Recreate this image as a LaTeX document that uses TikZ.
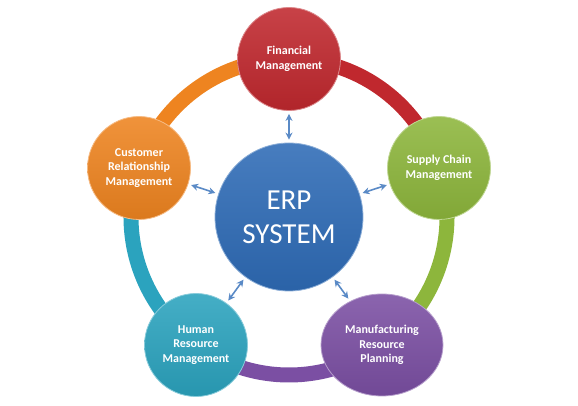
\documentclass[tikz,border=0pt]{standalone}
\usepackage{fontspec}
\setmainfont{Carlito}
\usetikzlibrary{shapes.geometric, arrows.meta}
\definecolor{ErpBlue}{HTML}{2E6BB6}
\definecolor{FinRed}{HTML}{C0282E}
\definecolor{CrmOrange}{HTML}{EE8420}
\definecolor{ScmGreen}{HTML}{8DB63C}
\definecolor{HrmTeal}{HTML}{2BA3BE}
\definecolor{MrpPurple}{HTML}{7B4FA3}
\definecolor{ArrowBlue}{HTML}{5A8AC6}

\begin{document}
\begin{tikzpicture}[x=1pt, y=1pt,
    module/.style={circle, inner sep=0pt, minimum size=103pt, align=center,
        text=white, font=\bfseries\fontsize{12}{14.5}\selectfont,
        draw=#1!55!white, line width=0.8pt,
        top color=#1!88!white, bottom color=#1!92!black},
    band/.style={line width=15pt, draw=#1},
    link/.style={ArrowBlue, line width=1.6pt, shorten <=3pt, shorten >=3pt,
        {Stealth[length=7pt,width=7pt]}-{Stealth[length=7pt,width=7pt]}}]
    \useasboundingbox (0,0) rectangle (578,406);

    % Ring
    \foreach \a/\b/\c in {90/18/FinRed, 18/-54/ScmGreen, -54/-126/MrpPurple,
                          -126/-198/HrmTeal, 162/90/CrmOrange}
        \draw[band=\c] (289,189) ++(\a:158) arc[start angle=\a, end angle=\b, radius=158];

    % Modules
    \node[module=FinRed] (fin) at (289,347) {Financial\\Management};
    \node[module=ScmGreen] (scm) at (439,238) {Supply Chain\\Management};
    \node[module=MrpPurple, ellipse, minimum width=122pt, minimum height=102pt]
        (mrp) at (382,61) {Manufacturing\\Resource\\Planning};
    \node[module=HrmTeal] (hrm) at (196,61) {Human\\Resource\\Management};
    \node[module=CrmOrange] (crm) at (139,238) {Customer\\Relationship\\Management};

    % Centre
    \node[module=ErpBlue, minimum size=148pt, font=\fontsize{29}{34}\selectfont]
        (erp) at (289,189) {ERP\\SYSTEM};

    % Arrows
    \foreach \m in {fin, scm, mrp, hrm, crm}
        \draw[link] (erp) -- (\m);
\end{tikzpicture}
\end{document}
